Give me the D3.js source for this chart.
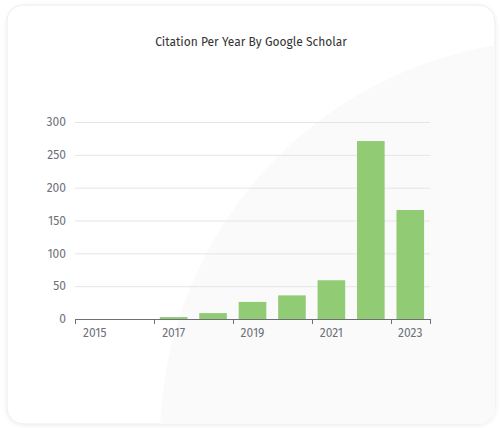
<!DOCTYPE html>
<html><head><meta charset="utf-8">
<script src="https://cdn.jsdelivr.net/npm/d3@7"></script>
<style>
html,body{margin:0;padding:0;background:#fff;}
svg{display:block;font-family:"Fira Sans","Noto Sans","Open Sans",sans-serif;}
</style></head>
<body>
<svg id="c" width="501" height="428"></svg>
<script>
const years = ["2015","2016","2017","2018","2019","2020","2021","2022","2023"];
const citations = [0, 0, 3, 9, 26, 36, 59, 271, 166];
const yTicks = [0, 50, 100, 150, 200, 250, 300];
const title = "Citation Per Year By Google Scholar";

const svg = d3.select("#c");
const defs = svg.append("defs");
const f = defs.append("filter").attr("id","sh").attr("x","-5%").attr("y","-5%").attr("width","110%").attr("height","110%");
f.append("feDropShadow").attr("dx",0).attr("dy",1).attr("stdDeviation",2).attr("flood-color","#000").attr("flood-opacity",0.07);
const clip = defs.append("clipPath").attr("id","card");
clip.append("rect").attr("x",7).attr("y",5).attr("width",488).attr("height",419).attr("rx",16);

svg.append("rect").attr("x",7).attr("y",5).attr("width",488).attr("height",419).attr("rx",16)
  .attr("fill","#fff").attr("stroke","#ececec").attr("filter","url(#sh)");
// faint decorative background shape
svg.append("g").attr("clip-path","url(#card)")
  .append("circle").attr("cx",560).attr("cy",440).attr("r",400).attr("fill","#fafafa");

const m = {left:75, right:430, top:122, bottom:319};
const x = d3.scaleBand().domain(years).range([m.left, m.right]).paddingInner(0).paddingOuter(0);
const y = d3.scaleLinear().domain([0,300]).range([m.bottom, m.top]);

// title
svg.append("text").attr("x",251).attr("y",46).attr("text-anchor","middle")
  .attr("font-size",12).attr("fill","#333").text(title);

// grid lines
svg.append("g").selectAll("line").data(yTicks.filter(d=>d>0)).join("line")
  .attr("x1",m.left).attr("x2",m.right)
  .attr("y1",d=>y(d)+0.5).attr("y2",d=>y(d)+0.5)
  .attr("stroke","#E3E5EA");

// y labels
svg.append("g").selectAll("text").data(yTicks).join("text")
  .attr("x",66).attr("y",d=>y(d)).attr("dy","0.35em").attr("text-anchor","end")
  .attr("font-size",12).attr("fill","#6E7079").text(d=>d);

// bars
const bw = x.bandwidth()*0.7;
svg.append("g").selectAll("rect").data(years.map((yr,i)=>({yr,v:citations[i]}))).join("rect")
  .attr("x",d=>x(d.yr)+(x.bandwidth()-bw)/2)
  .attr("width",bw)
  .attr("y",d=>y(d.v))
  .attr("height",d=>y(0)-y(d.v))
  .attr("fill","#91cc75");

// x axis line
svg.append("line").attr("x1",m.left).attr("x2",m.right).attr("y1",m.bottom+0.5).attr("y2",m.bottom+0.5)
  .attr("stroke","#6E7079");
// ticks every other boundary + end
const tickPos = years.filter((d,i)=>i%2===0).map(d=>x(d)).concat([m.right]);
svg.append("g").selectAll("line").data(tickPos).join("line")
  .attr("x1",d=>Math.round(d)+0.5).attr("x2",d=>Math.round(d)+0.5)
  .attr("y1",m.bottom).attr("y2",m.bottom+5).attr("stroke","#6E7079");
// x labels
svg.append("g").selectAll("text").data(years.filter((d,i)=>i%2===0)).join("text")
  .attr("x",d=>x(d)+x.bandwidth()/2).attr("y",m.bottom+18)
  .attr("text-anchor","middle").attr("font-size",12).attr("fill","#6E7079").text(d=>d);
</script>
</body></html>
